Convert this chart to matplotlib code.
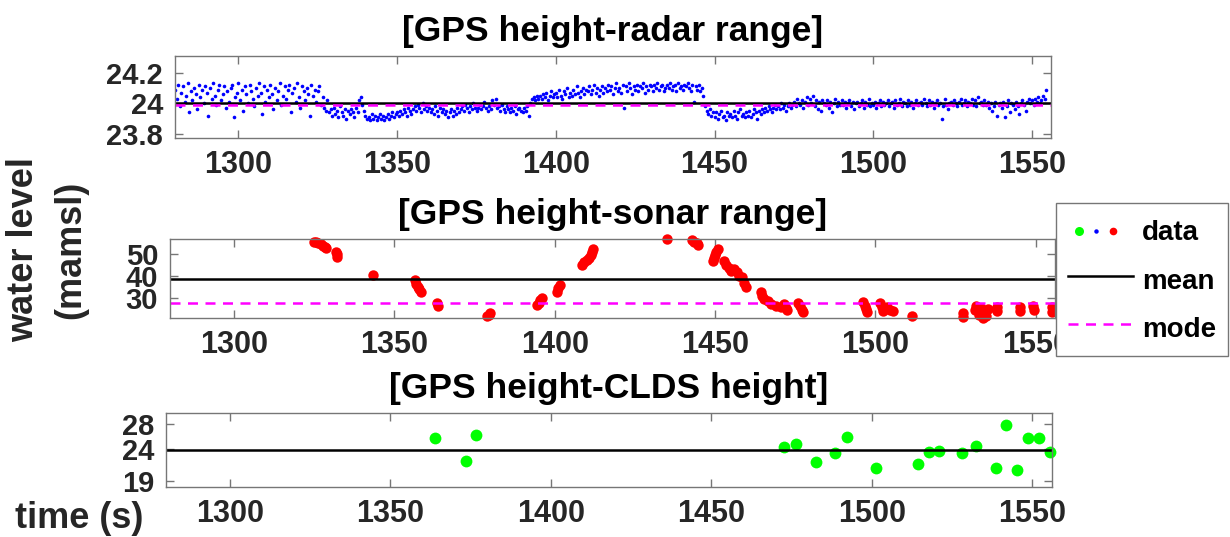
import numpy as np
import matplotlib
matplotlib.use("Agg")
import matplotlib.pyplot as plt
from matplotlib.lines import Line2D
from matplotlib.legend_handler import HandlerBase

plt.rcParams['font.family'] = ['Liberation Sans', 'DejaVu Sans']
plt.rcParams['font.weight'] = 'bold'

# ---- radar: height offsets in cm above 24 m, sampled every 0.5 s from t = 1280 s
radar_cm = [
    9, 3, 12, -2, 7, 11, 1, 5, 13, -6,
    8, 2, 10, 6, -4, 12, 4, 9, 0, 11,
    7, -8, 10, 3, 13, 5, -1, 9, 12, 2,
    6, 11, -3, 8, 1, 10, 12, -9, 4, 7,
    13, 2, 9, -5, 11, 6, 0, 12, 8, 3,
    -2, 10, 5, 13, 7, -7, 11, 1, 9, 4,
    12, 6, -4, 10, 2, 8, 13, -1, 5, 11,
    3, 9, 12, -6, 7, 10, 1, 13, 4, -3,
    11, 8, 2, 10, 6, -8, 12, 5, 9, 1,
    8, 11, -1, 4, -3, -5, 2, -6, -4, -8,
    -3, -7, -5, -9, -2, -6, -8, -4, -10, -5,
    -7, -4, -6, -9, -3, -6, 2, 4, -1, -5,
    -8, -10, -9, -11, -7, -10, -8, -11, -9, -7,
    -10, -8, -11, -9, -7, -10, -8, -6, -9, -7,
    -6, -8, -5, -7, -4, -6, -8, -3, -5, -7,
    -4, -2, -5, -1, -3, -6, 0, -4, -2, -5,
    -3, -6, -4, -7, -2, -5, -8, -3, -6, -4,
    -7, -5, -9, -6, -4, -8, -5, -7, -3, -6,
    -4, -2, -5, -1, -3, -6, -2, -4, 0, -3,
    -5, -3, -1, -4, -2, 1, -3, -5, -2, -4,
    2, -1, 3, -3, -2, -5, -1, -4, -6, -2,
    -4, -6, -3, -5, -2, -7, -4, -3, -5, -6,
    -3, -5, -2, -8, 0, 3, 4, 2, 5, 3,
    5, 3, 6, 4, 7, 2, 5, 8, 4, 6,
    7, 4, 9, 5, 3, 8, 6, 10, 4, 7,
    5, 9, 6, 11, 7, 4, 8, 10, 6, 9,
    8, 11, 6, 9, 12, 7, 10, 5, 9, 11,
    7, 10, 8, 12, 9, 11, 6, 10, 13, 8,
    10, 7, 12, -3, 11, 8, 13, 10, 6, 11,
    9, 12, 8, 11, 10, 13, 7, 11, 9, 12,
    11, 8, 12, 10, 13, 9, 11, 12, 8, 10,
    12, 10, 13, 9, 11, 12, 8, 13, 10, 11,
    9, 12, 11, 13, 10, 8, 12, 1, 11, 9,
    12, 8, 10, 5, -2, -5, -7, -4, -8, -6,
    -9, -6, -10, -7, -5, -9, -8, -11, -6, -8,
    -7, -9, -5, -8, -10, -6, -4, -8, -7, -9,
    -6, -8, -5, -9, -7, -4, -6, -10, -5, -7,
    -4, -6, -3, -5, -2, -4, -6, -3, -1, -4,
    -2, -4, 0, -3, -1, -5, -2, 0, -3, -1,
    1, -2, 3, 0, -1, 2, -3, 1, 4, -1,
    3, 0, 5, -2, 2, -4, 1, -5, 2, 0,
    -1, 2, -3, 1, -6, 0, 3, -2, 1, -1,
    2, -1, 1, -3, 0, 2, -2, 1, -4, 0,
    1, -2, 0, 2, -3, 1, -1, 3, -2, 0,
    -1, 1, -3, 0, 2, -2, 1, -1, 0, 2,
    -2, 0, 1, -3, 2, -1, 0, 3, -2, 1,
    0, -2, 2, -1, 1, -3, 0, 2, -1, 0,
    1, -1, 3, 0, -2, 2, -1, 1, -3, 0,
    2, -1, 0, -10, -2, 3, -1, -4, 0, 1,
    -1, 2, 0, -2, 1, 3, -1, 0, 2, -2,
    1, 0, 3, -1, 2, -2, 4, 0, 1, -1,
    2, -1, 1, -3, 0, -5, -2, 1, -8, -1,
    0, -3, 1, -9, -2, 2, -6, 0, -1, -4,
    1, -2, -7, 0, 2, -1, -5, 1, 3, 0,
    2, -1, 3, 1, 4, 0, 2, 5, 3, 9,
]
radar_t0 = 1280.0
radar_dt = 0.5
radar_mean = 24.004
radar_mode = 23.99

# ---- sonar
sonar_t = [
    1325.0, 1325.6, 1326.3, 1327.0, 1327.6, 1328.2, 1328.6, 1331.9, 1332.0, 1332.2,
    1343.3, 1356.5, 1356.8, 1357.2, 1357.7, 1358.2, 1363.4, 1363.5, 1378.8, 1379.4,
    1379.9, 1394.5, 1395.0, 1395.5, 1396.0, 1400.6, 1401.0, 1401.6, 1408.6, 1409.2,
    1410.0, 1410.8, 1411.3, 1411.6, 1411.8, 1435.0, 1442.8, 1443.5, 1444.2, 1444.6,
    1449.2, 1449.6, 1450.0, 1450.4, 1450.8, 1452.8, 1453.5, 1454.2, 1455.0, 1456.0,
    1456.8, 1457.6, 1458.4, 1459.0, 1459.5, 1464.2, 1464.6, 1465.2, 1466.5, 1467.5,
    1469.0, 1470.5, 1471.5, 1472.0, 1472.4, 1476.0, 1476.5, 1477.0, 1477.3, 1496.2,
    1496.6, 1497.0, 1497.3, 1501.5, 1502.0, 1502.5, 1503.5, 1504.5, 1505.6, 1511.3,
    1527.4, 1527.4, 1531.0, 1531.5, 1532.2, 1533.0, 1533.5, 1534.0, 1534.6, 1535.2,
    1537.8, 1537.9, 1545.0, 1545.1, 1549.2, 1549.3, 1555.0, 1555.1,
]
sonar_h = [
    55.6, 55.2, 54.8, 54.3, 53.6, 53.0, 52.6, 51.0, 49.8, 48.6,
    40.5, 38.0, 36.4, 35.0, 34.0, 33.0, 27.6, 26.5, 22.0, 22.6,
    23.3, 26.8, 28.0, 29.0, 30.0, 33.0, 34.4, 35.8, 45.2, 46.2,
    47.2, 48.2, 49.6, 51.0, 52.0, 56.6, 56.2, 55.6, 54.8, 54.0,
    46.6, 48.2, 49.6, 51.0, 52.2, 46.8, 45.2, 43.6, 42.4, 43.4,
    41.6, 40.2, 39.4, 37.0, 35.0, 32.8, 31.0, 29.4, 28.6, 27.2,
    26.6, 26.0, 27.4, 25.4, 24.6, 28.0, 26.4, 24.8, 23.6, 28.2,
    26.6, 25.0, 23.6, 27.8, 26.0, 24.2, 25.8, 24.6, 24.0, 22.0,
    23.2, 21.6, 24.8, 26.6, 22.4, 25.4, 21.0, 23.6, 21.8, 25.2,
    26.0, 24.2, 25.8, 24.2, 26.6, 24.6, 26.2, 23.6,
]
sonar_mean = 38.5
sonar_mode = 27.6

# ---- CLDS
clds_t = [1364.0, 1373.4, 1376.7, 1472.6, 1476.2, 1482.7, 1488.6, 1492.1, 1501.3,
          1514.4, 1517.7, 1520.9, 1528.2, 1532.3, 1538.6, 1541.9, 1545.2, 1548.6,
          1552.1, 1555.4]
clds_h = [25.87, 22.15, 26.35, 24.43, 24.86, 21.99, 23.37, 26.02, 20.98,
          21.62, 23.63, 23.79, 23.47, 24.59, 21.08, 27.94, 20.66, 25.77,
          25.87, 23.63]
clds_mean = 23.9

x_ticks = [1300, 1350, 1400, 1450, 1500, 1550]
x_lim = (1280, 1556)

radar_h = 24 + np.array(radar_cm) / 100.0
radar_t = radar_t0 + radar_dt * np.arange(len(radar_cm))

W, H = 1230, 537
fig = plt.figure(figsize=(W / 100, H / 100), dpi=100)

def px_axes(left, right, top, bottom):
    return fig.add_axes([left / W, 1 - bottom / H, (right - left) / W, (bottom - top) / H])

ax1 = px_axes(175, 1051, 56, 138)
ax2 = px_axes(170, 1055, 239.3, 318.3)
ax3 = px_axes(165.7, 1051.7, 413.3, 487.3)

TXT = '#262626'
SPINE = '#767676'
MAG = '#ff00ff'

for ax in (ax1, ax2, ax3):
    ax.set_xlim(*x_lim)
    ax.set_xticks(x_ticks)
    ax.tick_params(direction='in', length=6, width=1, color=SPINE,
                   labelcolor=TXT, pad=8.5, top=True, right=True)
    ax.tick_params(axis='x', labelsize=22)
    ax.tick_params(axis='y', labelsize=21)
    for s in ax.spines.values():
        s.set_color(SPINE)
        s.set_linewidth(1)

# radar panel
ax1.plot(radar_t, radar_h, 'o', color='#0000ff', ms=2.6, mec='none')
ax1.axhline(radar_mean, color='k', lw=1.8)
ax1.axhline(radar_mode, color=MAG, lw=1.8, ls=(0, (4, 3)))
ax1.set_ylim(23.773, 24.309)
ax1.set_yticks([23.8, 24.0, 24.2])
ax1.set_yticklabels(['23.8', '24', '24.2'])
ax1.set_title('[GPS height-radar range]', fontsize=25.5, fontweight='bold', pad=11)

# sonar panel
ax2.plot(sonar_t, sonar_h, 'o', color='#ff0000', ms=7.5, mec='none', clip_on=False)
ax2.axhline(sonar_mean, color='k', lw=1.8)
ax2.axhline(sonar_mode, color=MAG, lw=1.8, ls=(0, (4, 3)))
ax2.set_ylim(20.9, 56.6)
ax2.set_yticks([30, 40, 50])
ax2.set_title('[GPS height-sonar range]', fontsize=25.5, fontweight='bold', pad=11)

# CLDS panel
ax3.plot(clds_t, clds_h, 'o', color='#00ff00', ms=8.5, mec='none', clip_on=False)
ax3.axhline(clds_mean, color='k', lw=1.8)
ax3.set_ylim(17.95, 29.75)
ax3.set_yticks([19, 24, 28])
ax3.set_title('[GPS height-CLDS height]', fontsize=25.5, fontweight='bold', pad=11)

for ax in (ax1, ax2, ax3):
    for lab in ax.get_xticklabels() + ax.get_yticklabels():
        lab.set_fontweight('bold')

fig.text(47 / W, 1 - 250 / H, 'water level\n(mamsl)', rotation=90, ha='center',
         va='center', ma='center', fontsize=26, fontweight='bold', color=TXT,
         linespacing=1.45)
fig.text(15 / W, 1 - 518 / H, 'time (s)', ha='left', va='center',
         fontsize=26, fontweight='bold', color=TXT)


class DotsHandler(HandlerBase):
    """Legend entry showing a row of coloured dots, one per data series."""
    fracs = (0.16, 0.43, 0.68)

    def create_artists(self, legend, orig_handle, xdescent, ydescent,
                       width, height, fontsize, trans):
        arts = []
        for frac, h in zip(self.fracs, orig_handle):
            arts.append(Line2D([frac * width - xdescent], [height / 2 - ydescent],
                               ls='none', marker='o', color=h.get_color(),
                               ms=h.get_markersize(), mec='none', transform=trans))
        return arts


data_handle = (
    Line2D([], [], ls='none', marker='o', color='#00ff00', ms=6.5, mec='none'),
    Line2D([], [], ls='none', marker='o', color='#0000ff', ms=3.2, mec='none'),
    Line2D([], [], ls='none', marker='o', color='#ff0000', ms=5.5, mec='none'),
)
mean_handle = Line2D([], [], color='k', lw=1.8)
mode_handle = Line2D([], [], color=MAG, lw=1.8, ls=(0, (4, 3)))
leg = fig.legend([data_handle, mean_handle, mode_handle], ['data', 'mean', 'mode'],
                 handler_map={tuple: DotsHandler()},
                 loc='upper left', bbox_to_anchor=(1055.7 / W, 1 - 202.7 / H),
                 borderaxespad=0, fancybox=False, framealpha=1,
                 edgecolor=SPINE, prop={'weight': 'bold', 'size': 20},
                 handlelength=2.35, handleheight=1.4, handletextpad=0.3,
                 borderpad=0.45, labelspacing=0.58)
leg.get_frame().set_linewidth(1)

fig.savefig('out.png', dpi=100)
